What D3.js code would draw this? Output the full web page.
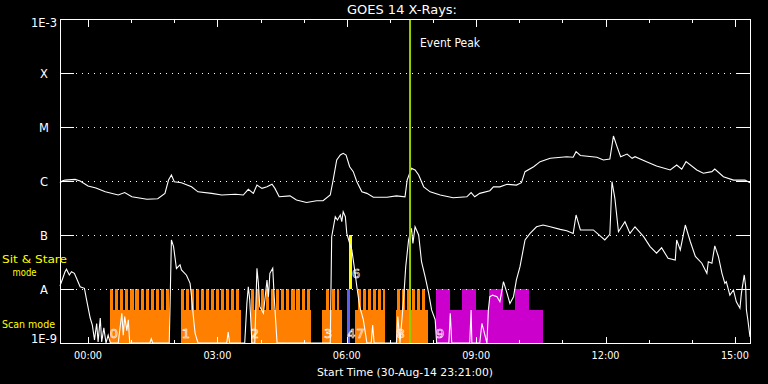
<!DOCTYPE html>
<html><head><meta charset="utf-8">
<script src="https://cdn.jsdelivr.net/npm/d3@7/dist/d3.min.js"></script>
<style>html,body{margin:0;padding:0;background:#000;overflow:hidden}svg{display:block}</style>
</head><body>
<svg id="c" width="768" height="384"></svg>
<script>
// ---- DATA (time in minutes from 00:00 UT on 31-Aug-14; start 23:21 on 30-Aug) ----
const startMin = -39, endMin = 921, eventPeakMin = 448;
const levelValues = [1e-3, 1e-4, 1e-5, 1e-6, 1e-7, 1e-8, 1e-9];
const levelLabels = ["1E-3", "X", "M", "C", "B", "A", "1E-9"];
const hourTicks = [0,60,120,180,240,300,360,420,480,540,600,660,720,780,840,900];
const majorTicks = [0,180,360,540,720,900];
const majorTickLabels = ["00:00","03:00","06:00","09:00","12:00","15:00"];

// GOES 14 long channel (1-8 A), [minute, W/m^2]
const longChannel = [[-39,0.92e-6],[-36,1.0e-6],[-32,1.04e-6],[-18,1.07e-6],[-11,1.0e-6],[0,0.81e-6],[11,0.74e-6],[24,0.63e-6],[42,0.55e-6],[51,0.61e-6],[61,0.51e-6],[82,0.46e-6],[97,0.47e-6],[107,0.59e-6],[112,1.04e-6],[116,1.29e-6],[120,0.97e-6],[130,0.93e-6],[144,0.78e-6],[153,0.63e-6],[172,0.59e-6],[186,0.55e-6],[205,0.57e-6],[216,0.55e-6],[223,0.70e-6],[230,0.59e-6],[235,0.84e-6],[242,0.73e-6],[249,0.78e-6],[256,0.87e-6],[260,0.73e-6],[266,0.51e-6],[281,0.53e-6],[290,0.445e-6],[304,0.40e-6],[318,0.43e-6],[327,0.43e-6],[337,0.55e-6],[341,1.04e-6],[346,2.45e-6],[351,3.03e-6],[355,3.26e-6],[359,3.03e-6],[364,1.84e-6],[369,1.49e-6],[374,0.97e-6],[381,0.63e-6],[388,0.59e-6],[397,0.50e-6],[416,0.50e-6],[429,0.53e-6],[441,0.51e-6],[444,1.04e-6],[450,1.72e-6],[455,1.60e-6],[460,1.29e-6],[467,0.78e-6],[476,0.63e-6],[490,0.55e-6],[508,0.49e-6],[527,0.51e-6],[533,0.61e-6],[538,0.51e-6],[545,0.59e-6],[559,0.66e-6],[564,0.78e-6],[573,0.78e-6],[583,0.87e-6],[596,0.84e-6],[603,0.93e-6],[608,1.49e-6],[620,1.84e-6],[629,2.28e-6],[643,2.63e-6],[666,2.82e-6],[675,2.75e-6],[679,3.49e-6],[685,2.97e-6],[708,2.75e-6],[717,2.45e-6],[726,2.55e-6],[731,6.8e-6],[736,4.32e-6],[741,2.82e-6],[750,3.16e-6],[757,2.63e-6],[761,2.82e-6],[777,2.28e-6],[791,1.90e-6],[810,1.60e-6],[819,1.98e-6],[826,1.65e-6],[832,2.28e-6],[847,1.60e-6],[856,1.39e-6],[868,1.49e-6],[872,1.67e-6],[884,1.20e-6],[898,1.04e-6],[914,1.04e-6],[921,0.93e-6]];

// GOES 14 short channel (0.5-4 A), [minute, W/m^2]
const shortChannel = [[-39,1.14e-8],[-36,1.47e-8],[-32,2.09e-8],[-30,2.32e-8],[-26,1.82e-8],[-23,2.09e-8],[-19,1.95e-8],[-16,1.58e-8],[-11,1.10e-8],[-5,1.03e-8],[-2,0.63e-8],[3,0.29e-8],[6,0.215e-8],[9,0.114e-8],[12,0.23e-8],[14,0.105e-8],[17,0.29e-8],[19,0.105e-8],[22,0.19e-8],[25,1e-9],[28,0.14e-8],[31,1e-9],[42,1e-9],[47,0.355e-8],[49,0.14e-8],[51,0.31e-8],[54,0.17e-8],[56,0.27e-8],[58,1e-9],[86,1e-9],[88,0.12e-8],[90,1e-9],[113,1e-9],[116,0.81e-7],[119,0.61e-7],[123,0.24e-7],[128,0.28e-7],[130,0.225e-7],[137,0.18e-7],[142,1.27e-8],[144,0.72e-8],[147,0.27e-8],[149,0.15e-8],[153,1e-9],[193,1e-9],[195,0.16e-8],[197,1e-9],[218,1e-9],[221,0.54e-8],[223,1.10e-8],[225,0.63e-8],[228,1e-9],[232,1e-9],[235,2.42e-8],[237,1.27e-8],[239,0.47e-8],[244,0.355e-8],[249,1.47e-8],[251,0.72e-8],[253,1.95e-8],[257,2.42e-8],[259,0.72e-8],[263,1e-9],[337,1e-9],[339,0.93e-7],[344,2.18e-7],[347,1.90e-7],[351,2.35e-7],[353,1.76e-7],[355,2.70e-7],[358,2.18e-7],[360,1.07e-7],[364,0.70e-7],[367,0.53e-7],[371,0.225e-7],[374,1.10e-8],[376,0.72e-8],[378,0.47e-8],[383,0.27e-8],[388,1e-9],[394,1e-9],[396,0.215e-8],[398,1e-9],[429,1e-9],[431,0.31e-8],[434,1e-9],[439,0.63e-8],[442,2.59e-8],[446,0.81e-7],[450,1.33e-7],[452,0.70e-7],[455,1.42e-7],[460,1.0e-7],[464,0.32e-7],[469,1.69e-8],[474,0.83e-8],[478,0.41e-8],[483,0.27e-8],[485,1e-9],[502,1e-9],[504,0.355e-8],[506,1e-9],[531,1e-9],[533,0.41e-8],[534,1e-9],[545,1e-9],[548,0.23e-8],[555,1e-9],[557,0.41e-8],[559,0.72e-8],[563,0.77e-8],[569,0.72e-8],[573,0.58e-8],[578,1.37e-8],[583,0.83e-8],[587,0.54e-8],[592,0.72e-8],[596,1.47e-8],[601,2.59e-8],[608,0.81e-7],[615,1.07e-7],[624,1.42e-7],[633,1.53e-7],[643,1.42e-7],[657,1.27e-7],[666,1.20e-7],[675,1.07e-7],[679,2.35e-7],[685,1.24e-7],[703,1.24e-7],[719,0.81e-7],[726,1.03e-7],[729,9.7e-7],[733,4.78e-7],[738,1.15e-7],[747,1.76e-7],[754,1.07e-7],[761,1.42e-7],[773,0.93e-7],[782,0.61e-7],[791,0.46e-7],[798,0.58e-7],[807,0.37e-7],[817,0.345e-7],[819,0.81e-7],[824,0.53e-7],[831,1.53e-7],[838,0.75e-7],[845,0.40e-7],[854,0.30e-7],[861,0.195e-7],[863,0.32e-7],[868,0.30e-7],[872,0.63e-7],[877,0.40e-7],[882,0.195e-7],[886,1.27e-8],[888,1.37e-8],[893,0.77e-8],[898,0.96e-8],[902,0.58e-8],[907,0.44e-8],[909,0.83e-8],[913,1.82e-8],[915,1.10e-8],[916,0.41e-8],[918,0.27e-8],[921,0.13e-8]];

// Observing modes: scan-mode blocks [start,end] and sit & stare intervals [start,end]
const scanBlocks = [[31,113],[129,213],[227,310],[326,353],[371,413],[429,473]];
const sitStare = [[31,35.3],[38,42.3],[45,49.3],[52,56.3],[59,63.3],[66,70.3],[73,77.3],[80,84.3],[87,91.3],[94,98.3],[101,105.3],[108,112.3],
  [129,133.3],[136,140.3],[143,147.3],[150,154.3],[157,161.3],[164,168.3],[171,175.3],[178,182.3],[185,189.3],[192,196.3],[199,203.3],[206,210.3],
  [227,231.3],[234,238.3],[241,245.3],[248,252.3],[255,259.3],[262,266.3],[269,273.3],[276,280.3],[283,287.3],[290,294.3],[297,301.3],[304,308.3],
  [331,335.3],[339,343.3],[346,349],
  [376,380.3],[383,387.3],[390,394.3],[397,401.3],[404,408.3],[411,413],
  [430,434.3],[437,441.3],[444,448],[451,455.3],[458,462.3],[465,469.3]];
const otherScan = [[484,633]];
const otherStare = [[484,504],[520,540],[558,577],[594,614]];
const blueBar = [[360.5,364.5]];
const yellowBar = [[363.5,367]];
const obsLabels = [["0",36],["1",136],["2",232],["3",334],["4",366.5],["7",379],["8",435],["9",490]];
const upperLabel = ["6",373, 2.07e-8];

// ---- DRAW ----
const svg = d3.select("#c");
const L = 60, R = 750, T = 19, B = 343;
const x = d3.scaleLinear().domain([startMin, endMin]).range([L, R]);
const y = d3.scaleLog().domain([1e-9, 1e-3]).range([B, T]).clamp(true);
const font = "'DejaVu Sans', sans-serif";

const yA = y(1e-8), yB = y(1e-7), yBot = y(1e-9);
const bandTop = yA + (yBot - yA) * 0.39;

function rects(data, color, top, bottom) {
  svg.append("g").attr("shape-rendering","crispEdges").selectAll("rect").data(data).join("rect")
    .attr("x", d => x(d[0])).attr("width", d => Math.max(1, x(d[1]) - x(d[0])))
    .attr("y", top).attr("height", bottom - top).attr("fill", color);
}
rects(scanBlocks, "#ff8000", bandTop, yBot);
rects(sitStare, "#ff8000", yA, yBot);
rects(otherScan, "#cc00cc", bandTop, yBot);
rects(otherStare, "#cc00cc", yA, yBot);
rects(blueBar, "#5f5ff0", yA, yBot);
rects(yellowBar, "#ffff00", yB, yA);

// dotted grid lines
const gridG = svg.append("g").attr("shape-rendering","crispEdges");
levelValues.slice(1, 6).forEach(v => {
  gridG.append("line").attr("x1", L + 16).attr("x2", R - 14).attr("y1", Math.round(y(v)) + 0.5).attr("y2", Math.round(y(v)) + 0.5)
    .attr("stroke", "#fff").attr("stroke-width", 1).attr("stroke-dasharray", "1,5");
});

// curves
const line = d3.line().x(d => x(d[0])).y(d => y(Math.max(d[1], 1e-9)));
svg.append("path").datum(longChannel).attr("d", line).attr("fill", "none").attr("stroke", "#fff").attr("stroke-width", 1.1);
svg.append("path").datum(shortChannel).attr("d", line).attr("fill", "none").attr("stroke", "#fff").attr("stroke-width", 1.1);

// observation labels (outlined digits)
svg.append("g").selectAll("text").data(obsLabels).join("text")
  .attr("x", d => x(d[1])).attr("y", B - 5).attr("text-anchor", "middle")
  .attr("font-family", font).attr("font-size", 13).attr("fill", "none")
  .attr("stroke", "#fff").attr("stroke-width", 0.6).text(d => d[0]);
svg.append("text").attr("x", x(upperLabel[1])).attr("y", y(upperLabel[2]) + 6).attr("text-anchor", "middle")
  .attr("font-family", font).attr("font-size", 13).attr("fill", "none")
  .attr("stroke", "#fff").attr("stroke-width", 0.6).text(upperLabel[0]);

// event peak
svg.append("line").attr("x1", x(eventPeakMin)).attr("x2", x(eventPeakMin)).attr("y1", T).attr("y2", B)
  .attr("stroke", "#99cc00").attr("stroke-width", 2);
svg.append("text").attr("x", x(eventPeakMin) + 10).attr("y", 47).attr("font-family", font)
  .attr("font-size", 11.5).attr("fill", "#fff").attr("textLength", 60).attr("lengthAdjust", "spacingAndGlyphs").text("Event Peak");

// frame
const fr = svg.append("g").attr("shape-rendering","crispEdges").attr("stroke", "#fff").attr("stroke-width", 1).attr("fill", "none");
fr.append("rect").attr("x", L + 0.5).attr("y", T + 0.5).attr("width", R - L).attr("height", B - T);

// x ticks (bottom and top)
hourTicks.forEach(t => {
  const major = majorTicks.includes(t);
  const len = major ? 7 : 3.5;
  const xx = Math.round(x(t)) + 0.5;
  fr.append("line").attr("x1", xx).attr("x2", xx).attr("y1", B + 0.5).attr("y2", B + 0.5 - len);
  fr.append("line").attr("x1", xx).attr("x2", xx).attr("y1", T + 0.5).attr("y2", T + 0.5 + len);
});
// y ticks
levelValues.forEach(v => {
  const yy = Math.round(y(v)) + 0.5;
  fr.append("line").attr("x1", L).attr("x2", L + 14).attr("y1", yy).attr("y2", yy);
  fr.append("line").attr("x1", R - 14).attr("x2", R).attr("y1", yy).attr("y2", yy);
});

// x tick labels
svg.append("g").selectAll("text").data(majorTicks).join("text")
  .attr("x", d => x(d)).attr("y", 359).attr("text-anchor", "middle").attr("font-family", font)
  .attr("font-size", 11).attr("fill", "#fff").attr("textLength", 28).attr("lengthAdjust", "spacingAndGlyphs")
  .text((d, i) => majorTickLabels[i]);

// y labels
levelValues.forEach((v, i) => {
  const lab = levelLabels[i];
  const t = svg.append("text").attr("font-family", font).attr("font-size", 11.5).attr("fill", "#fff").text(lab);
  if (i === 0) t.attr("x", 57).attr("y", 27).attr("text-anchor", "end").attr("textLength", 26).attr("lengthAdjust", "spacingAndGlyphs");
  else if (i === 6) t.attr("x", 57).attr("y", 343).attr("text-anchor", "end").attr("textLength", 26).attr("lengthAdjust", "spacingAndGlyphs");
  else t.attr("x", 44).attr("y", y(v) + 5).attr("text-anchor", "middle");
});

// title and axis title
svg.append("text").attr("x", 402).attr("y", 13.5).attr("text-anchor", "middle").attr("font-family", font)
  .attr("font-size", 11.5).attr("fill", "#fff").attr("textLength", 110).attr("lengthAdjust", "spacingAndGlyphs").text("GOES 14 X-Rays:");
svg.append("text").attr("x", 405).attr("y", 376).attr("text-anchor", "middle").attr("font-family", font)
  .attr("font-size", 11).attr("fill", "#fff").attr("textLength", 176).attr("lengthAdjust", "spacingAndGlyphs").text("Start Time (30-Aug-14 23:21:00)");

// mode labels
const ylw = "#ffff00";
svg.append("text").attr("x", 2).attr("y", 262.5).attr("font-family", font).attr("font-size", 10.5).attr("fill", ylw)
  .attr("textLength", 65).attr("lengthAdjust", "spacingAndGlyphs").text("Sit & Stare");
svg.append("text").attr("x", 24.5).attr("y", 275.5).attr("text-anchor", "middle").attr("font-family", font).attr("font-size", 10.5).attr("fill", ylw)
  .attr("textLength", 24).attr("lengthAdjust", "spacingAndGlyphs").text("mode");
svg.append("text").attr("x", 2).attr("y", 328).attr("font-family", font).attr("font-size", 11).attr("fill", ylw)
  .attr("textLength", 53).attr("lengthAdjust", "spacingAndGlyphs").text("Scan mode");
</script>
</body></html>
